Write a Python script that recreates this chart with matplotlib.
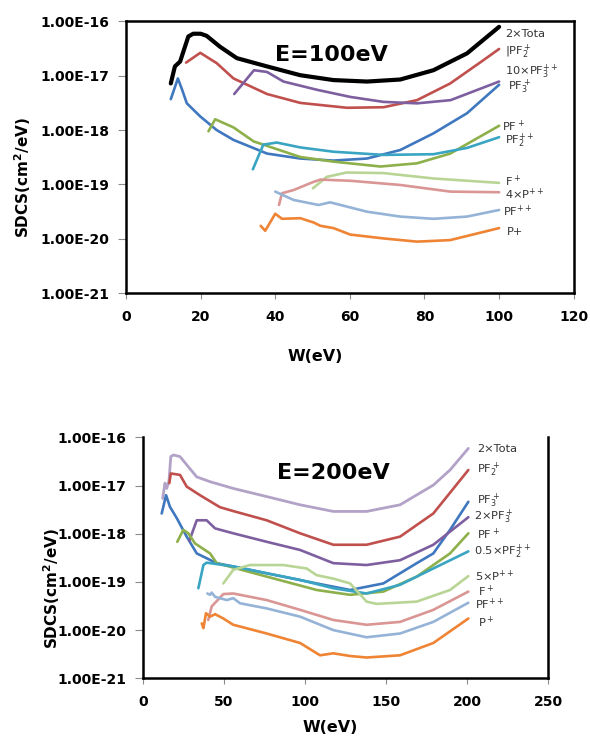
"""SDCS vs ejected-electron energy for PF3 fragments at E=100 eV and E=200 eV."""

import matplotlib
matplotlib.use("Agg")
import matplotlib.pyplot as plt
from matplotlib.ticker import FixedLocator, FuncFormatter, NullLocator

# ---- E = 100 eV -----------------------------------------------------------
w100_total = [12, 13.1, 14.5, 16.7, 18, 20, 21.6, 25.2, 29.7, 37.8, 46.7, 55.6, 64.6, 73.5, 82.4, 91.4, 100]
s100_total = [7.2e-18, 1.48e-17, 1.82e-17, 5.25e-17, 5.9e-17, 5.9e-17, 5.4e-17, 3.4e-17, 2.1e-17,
              1.48e-17, 1.02e-17, 8.3e-18, 7.8e-18, 8.5e-18, 1.26e-17, 2.57e-17, 7.9e-17]
w100_pf2 = [16.1, 19.9, 24.3, 28.8, 37.8, 46.7, 59.2, 69, 78, 86.9, 95.9, 100]
s100_pf2 = [1.74e-17, 2.63e-17, 1.70e-17, 8.9e-18, 4.6e-18, 3.16e-18, 2.57e-18, 2.63e-18, 3.55e-18,
            7.2e-18, 1.95e-17, 3.1e-17]
w100_pf3pp = [29, 34.3, 37.8, 42.2, 51.2, 60.1, 69, 78, 87, 100]
s100_pf3pp = [4.6e-18, 1.26e-17, 1.17e-17, 7.8e-18, 5.5e-18, 4.07e-18, 3.3e-18, 3.1e-18, 3.55e-18, 7.8e-18]
w100_pf3 = [12, 13.9, 15.0, 16.3, 19.9, 24.3, 28.8, 37.8, 46.7, 55.6, 64.6, 73.5, 82.4, 91.4, 100]
s100_pf3 = [3.7e-18, 8.9e-18, 5.6e-18, 3.1e-18, 1.78e-18, 1.0e-18, 6.6e-19, 3.7e-19, 3.0e-19, 2.75e-19,
            3.0e-19, 4.3e-19, 8.7e-19, 2.04e-18, 6.8e-18]
w100_pf = [22.1, 23.9, 28.8, 34.2, 46.7, 55.6, 68.2, 78, 86.9, 100]
s100_pf = [9.5e-19, 1.58e-18, 1.12e-18, 6.2e-19, 3.2e-19, 2.63e-19, 2.14e-19, 2.45e-19, 3.7e-19, 1.2e-18]
w100_pf2pp = [34, 36.8, 40.4, 46.7, 55.6, 69, 82.4, 91.4, 100]
s100_pf2pp = [1.9e-19, 5.4e-19, 5.9e-19, 4.8e-19, 4.0e-19, 3.5e-19, 3.6e-19, 4.7e-19, 7.4e-19]
w100_f = [50.1, 53.8, 59.1, 69, 82.4, 100]
s100_f = [8.5e-20, 1.38e-19, 1.66e-19, 1.62e-19, 1.29e-19, 1.07e-19]
w100_ppp = [41, 41.8, 44.9, 50.3, 52.1, 60.1, 73.5, 86.9, 100]
s100_ppp = [4.2e-20, 6.9e-20, 7.9e-20, 1.12e-19, 1.23e-19, 1.17e-19, 9.8e-20, 7.4e-20, 7.2e-20]
w100_pfpp = [40, 44.9, 51.6, 54.7, 64.6, 73.5, 82.4, 91.4, 100]
s100_pfpp = [7.4e-20, 5.2e-20, 4.2e-20, 4.7e-20, 3.16e-20, 2.57e-20, 2.34e-20, 2.57e-20, 3.4e-20]
w100_p = [36.1, 37.3, 40, 41.8, 46.7, 50.3, 52.1, 55.6, 60.1, 69, 78, 86.9, 100]
s100_p = [1.74e-20, 1.41e-20, 2.9e-20, 2.34e-20, 2.4e-20, 2.0e-20, 1.74e-20, 1.58e-20, 1.2e-20,
          1.02e-20, 8.9e-21, 9.5e-21, 1.58e-20]

labels100 = ["2×Tota", "|PF$_2^+$", "10×PF$_3^{++}$", "PF$_3^+$", "PF$^+$", "PF$_2^{++}$",
             "F$^+$", "4×P$^{++}$", "PF$^{++}$", "P+"]

# ---- E = 200 eV -----------------------------------------------------------
w200_total = [12.3, 13.7, 14.8, 16.2, 17.3, 18.9, 23, 28.1, 33.3, 41.5, 55.8, 76.4, 97, 117.5, 138,
              158.6, 179.1, 189.4, 200.7]
s200_total = [5.4e-18, 1.12e-17, 8.7e-18, 1.26e-17, 3.98e-17, 4.3e-17, 3.98e-17, 2.45e-17, 1.51e-17,
              1.2e-17, 8.7e-18, 5.9e-18, 3.98e-18, 2.9e-18, 2.9e-18, 3.98e-18, 1.02e-17, 2.1e-17, 5.9e-17]
w200_pf2 = [16.4, 17.3, 23, 27.1, 35.3, 47.6, 55.8, 76.4, 97, 117.5, 138, 158.6, 179.1, 200.7]
s200_pf2 = [1.12e-17, 1.78e-17, 1.66e-17, 9.5e-18, 6.3e-18, 3.55e-18, 2.95e-18, 1.9e-18, 1.02e-18,
            5.9e-19, 5.9e-19, 8.7e-19, 2.63e-18, 2.1e-17]
w200_pf3 = [11.7, 14.4, 16.8, 21, 27.1, 33.3, 45.6, 76.4, 107.2, 127.8, 148.3, 168.9, 179.1, 189.4, 200.7]
s200_pf3 = [2.63e-18, 6.3e-18, 3.6e-18, 2.1e-18, 8.7e-19, 3.9e-19, 2.45e-19, 1.51e-19, 9.3e-20, 6.8e-20,
            9.3e-20, 2.45e-19, 3.9e-19, 1.2e-18, 4.6e-18]
w200_pf3x2 = [28.7, 33.3, 39.4, 44.6, 55.8, 76.4, 97, 117.5, 138, 158.6, 179.1, 200.7]
s200_pf3x2 = [7.1e-19, 1.9e-18, 1.9e-18, 1.29e-18, 1.02e-18, 6.8e-19, 4.6e-19, 2.45e-19, 2.24e-19,
              2.82e-19, 5.9e-19, 2.2e-18]
w200_pf = [21.3, 25, 28.1, 32.2, 41.5, 45.6, 76.4, 107.2, 127.8, 148.3, 168.9, 189.4, 200.7]
s200_pf = [6.8e-19, 1.2e-18, 1.02e-18, 6.3e-19, 3.9e-19, 2.45e-19, 1.29e-19, 6.8e-20, 5.4e-20, 6.3e-20,
           1.29e-19, 3.9e-19, 1.02e-18]
w200_pf2pp = [34.3, 37.4, 39.4, 55.8, 76.4, 97, 117.5, 138, 158.6, 179.1, 200.7]
s200_pf2pp = [7.4e-20, 2.24e-19, 2.51e-19, 2.1e-19, 1.51e-19, 1.1e-19, 7.4e-20, 5.75e-20, 8.7e-20,
              1.9e-19, 4.3e-19]
w200_ppp = [49.7, 55.8, 66.1, 86.6, 101, 107.2, 117.5, 127.8, 138, 144.2, 168.9, 189.4, 200.7]
s200_ppp = [9.3e-20, 1.78e-19, 2.24e-19, 2.24e-19, 1.9e-19, 1.38e-19, 1.17e-19, 9.3e-20, 3.9e-20,
            3.5e-20, 3.9e-20, 6.8e-20, 1.32e-19]
w200_f = [40.4, 42.5, 49.7, 55.8, 76.4, 97, 117.5, 138, 158.6, 179.1, 200.7]
s200_f = [1.62e-20, 3.1e-20, 5.6e-20, 5.75e-20, 4.2e-20, 2.63e-20, 1.62e-20, 1.29e-20, 1.48e-20,
          2.63e-20, 6.3e-20]
w200_pfpp = [39.8, 41.5, 42.5, 44.6, 47.6, 51.8, 55.8, 60, 76.4, 97, 117.5, 138, 158.6, 179.1, 200.7]
s200_pfpp = [5.75e-20, 5.4e-20, 6.0e-20, 4.9e-20, 4.6e-20, 4.2e-20, 4.6e-20, 3.6e-20, 2.82e-20, 1.9e-20,
             1.0e-20, 7.1e-21, 8.5e-21, 1.48e-20, 3.7e-20]
w200_p = [36.4, 37.4, 39, 41.5, 44.6, 49.7, 55.8, 76.4, 97, 109.3, 117.5, 127.8, 138, 158.6, 179.1, 200.7]
s200_p = [1.38e-20, 1.1e-20, 2.24e-20, 1.9e-20, 2.14e-20, 1.74e-20, 1.29e-20, 8.5e-21, 5.4e-21, 3.0e-21,
          3.3e-21, 2.9e-21, 2.7e-21, 3.0e-21, 5.4e-21, 1.74e-20]

labels200 = ["2×Tota", "PF$_2^+$", "PF$_3^+$", "2×PF$_3^+$", "PF$^+$", "0.5×PF$_2^{++}$",
             "5×P$^{++}$", "F$^+$", "PF$^{++}$", "P$^+$"]

y_ticks = [1e-21, 1e-20, 1e-19, 1e-18, 1e-17, 1e-16]

BLUE, RED, GREEN, PURPLE = "#3f78bf", "#c0504d", "#8db04a", "#7d5fa0"
TEAL, ORANGE = "#3aa5c2", "#ee8434"
LGREEN, PINK, LBLUE, LAV = "#b8d595", "#d99694", "#95b3d7", "#b3a2c7"


def sci_label(v, _pos):
    return f"{v:.2E}"


def style_axes(ax, xmax, xstep, top_spine=True):
    ax.set_yscale("log")
    ax.set_ylim(1e-21, 1e-16)
    ax.set_xlim(0, xmax)
    ax.yaxis.set_major_locator(FixedLocator(y_ticks))
    ax.yaxis.set_major_formatter(FuncFormatter(sci_label))
    ax.yaxis.set_minor_locator(NullLocator())
    ax.set_xticks(range(0, xmax + 1, xstep))
    for side in ["left", "bottom", "right", "top"]:
        ax.spines[side].set_linewidth(1.8)
        ax.spines[side].set_color("black")
    ax.spines["top"].set_visible(top_spine)
    ax.tick_params(axis="both", direction="out", color="#8c8c8c", width=0.8, labelsize=10)
    ax.tick_params(axis="y", length=6, pad=6)
    ax.tick_params(axis="x", length=4, pad=8)
    for t in ax.get_xticklabels() + ax.get_yticklabels():
        t.set_fontweight("bold")


def put_labels(ax, labels, xs, ys):
    for txt, xf, yf in zip(labels, xs, ys):
        ax.text(xf, yf, txt, transform=ax.transAxes, fontsize=8.2, color="#333333",
                ha="left", va="center")


fig = plt.figure(figsize=(5.9, 7.36), dpi=100)

# ---- top panel
ax1 = fig.add_axes([0.2136, 0.6015, 0.7588, 0.3696])
series100 = [
    (w100_total, s100_total, "black", 3.0),
    (w100_pf2, s100_pf2, RED, 1.9),
    (w100_pf3pp, s100_pf3pp, PURPLE, 1.9),
    (w100_pf3, s100_pf3, BLUE, 1.9),
    (w100_pf, s100_pf, GREEN, 1.9),
    (w100_pf2pp, s100_pf2pp, TEAL, 1.9),
    (w100_f, s100_f, LGREEN, 1.9),
    (w100_ppp, s100_ppp, PINK, 1.9),
    (w100_pfpp, s100_pfpp, LBLUE, 1.9),
    (w100_p, s100_p, ORANGE, 1.9),
]
for w, s, c, lw in series100:
    ax1.plot(w, s, color=c, lw=lw, solid_joinstyle="round", solid_capstyle="round")
style_axes(ax1, 120, 20)
ax1.text(0.458, 0.877, "E=100eV", transform=ax1.transAxes, fontsize=16, fontweight="bold",
         ha="center", va="center")
put_labels(ax1, labels100,
           [0.847, 0.847, 0.847, 0.853, 0.840, 0.847, 0.847, 0.847, 0.842, 0.851],
           [0.953, 0.887, 0.814, 0.758, 0.612, 0.560, 0.410, 0.362, 0.303, 0.225])

# ---- bottom panel
ax2 = fig.add_axes([0.2419, 0.0784, 0.6875, 0.3274])
series200 = [
    (w200_total, s200_total, LAV, 2.0),
    (w200_pf2, s200_pf2, RED, 1.9),
    (w200_pf3, s200_pf3, BLUE, 1.9),
    (w200_pf3x2, s200_pf3x2, PURPLE, 1.9),
    (w200_pf, s200_pf, GREEN, 1.9),
    (w200_pf2pp, s200_pf2pp, TEAL, 1.9),
    (w200_ppp, s200_ppp, LGREEN, 1.9),
    (w200_f, s200_f, PINK, 1.9),
    (w200_pfpp, s200_pfpp, LBLUE, 1.9),
    (w200_p, s200_p, ORANGE, 1.9),
]
for w, s, c, lw in series200:
    ax2.plot(w, s, color=c, lw=lw, solid_joinstyle="round", solid_capstyle="round")
style_axes(ax2, 250, 50, top_spine=False)
ax2.text(0.471, 0.853, "E=200eV", transform=ax2.transAxes, fontsize=16, fontweight="bold",
         ha="center", va="center")
put_labels(ax2, labels200,
           [0.824, 0.824, 0.824, 0.816, 0.824, 0.816, 0.820, 0.827, 0.820, 0.827],
           [0.953, 0.863, 0.735, 0.671, 0.599, 0.526, 0.422, 0.362, 0.306, 0.232])

# axis titles (placed like the original, overlapping the tick labels a little)
fig.text(0.039, 0.7595, "SDCS(cm$^{\\mathbf{2}}$/eV)", rotation=90, fontsize=11,
         fontweight="bold", ha="center", va="center")
fig.text(0.088, 0.201, "SDCS(cm$^{\\mathbf{2}}$/eV)", rotation=90, fontsize=11,
         fontweight="bold", ha="center", va="center")
fig.text(0.534, 0.515, "W(eV)", fontsize=11.5, fontweight="bold", ha="center", va="center")
fig.text(0.559, 0.012, "W(eV)", fontsize=11.5, fontweight="bold", ha="center", va="center")

fig.savefig("out.png", dpi=100)
